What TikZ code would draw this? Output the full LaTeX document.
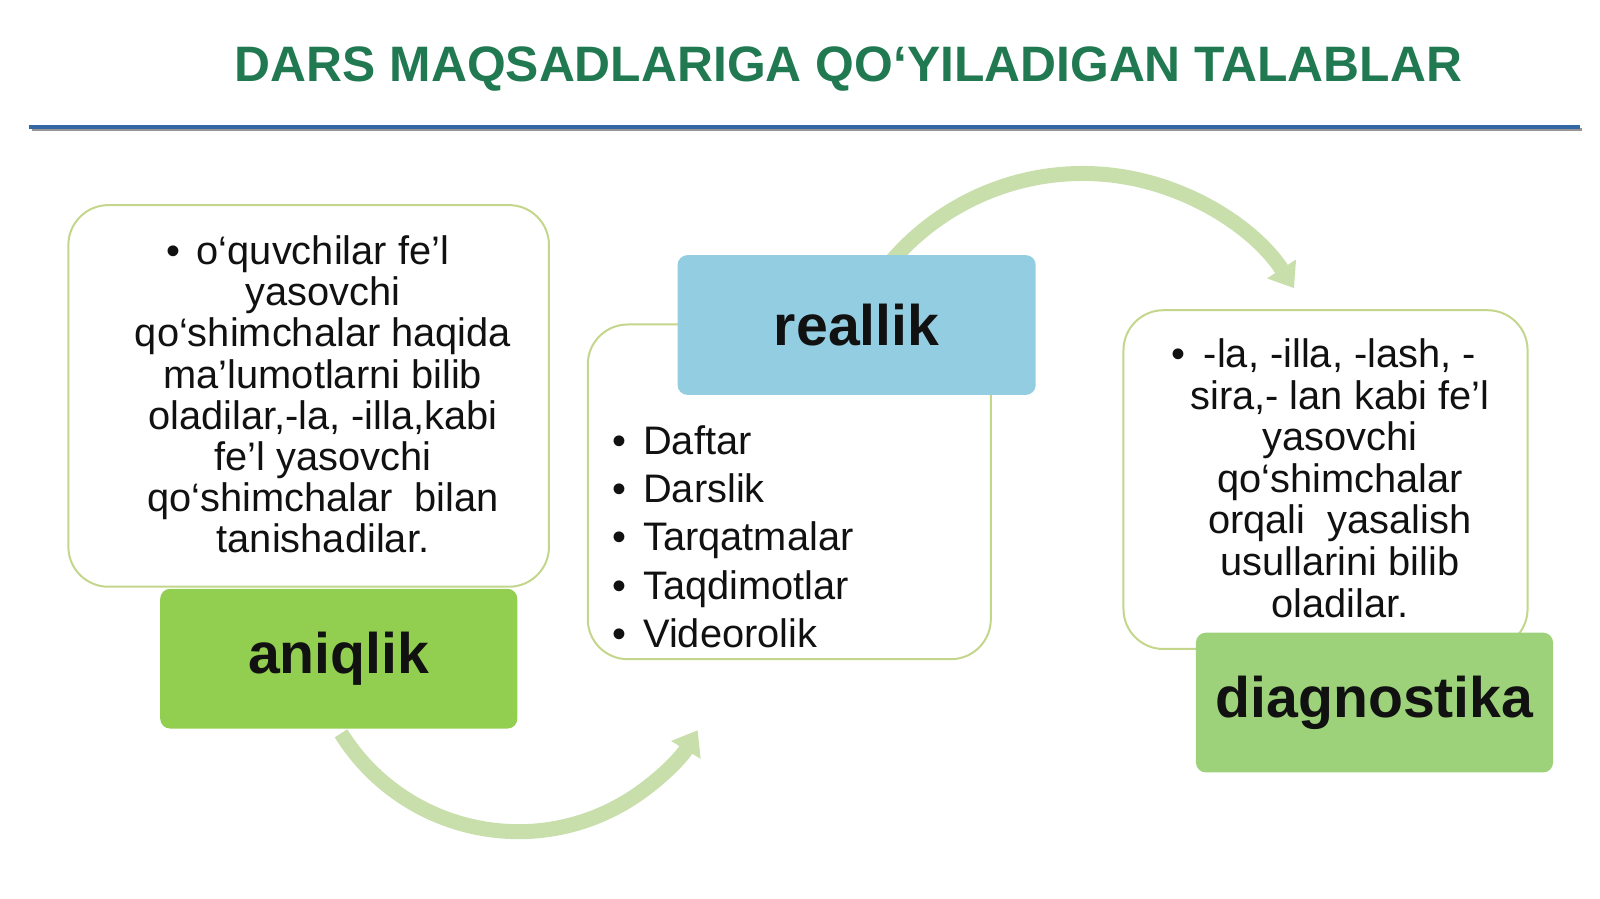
\documentclass[tikz,border=0pt]{standalone}
\usepackage{fontspec}
\setmainfont{Liberation Sans}
\usetikzlibrary{arrows.meta}
\definecolor{titlegreen}{RGB}{33,121,82}
\definecolor{rulerblue}{RGB}{52,104,164}
\definecolor{rulergrey}{RGB}{150,150,150}
\definecolor{boxline}{RGB}{196,214,140}
\definecolor{greenA}{RGB}{146,206,80}
\definecolor{blueB}{RGB}{146,205,225}
\definecolor{greenC}{RGB}{157,210,122}
\definecolor{arrowgreen}{RGB}{200,223,172}
\definecolor{textblack}{RGB}{17,17,17}
\tikzset{
  whitebox/.style={draw=boxline, line width=1pt, fill=white, rounded corners=20pt, inner sep=0pt},
  labelbox/.style={rounded corners=5pt, inner sep=0pt, font=\bfseries\fontsize{28.6}{34}\selectfont, text=textblack},
  bodytext/.style={inner sep=0pt, text=textblack},
  bigarrow/.style={draw=arrowgreen, line width=7.5pt, -{Triangle[length=11.5pt,width=16.5pt]}},
}
\begin{document}
\begin{tikzpicture}[x=0.5102pt,y=-0.5102pt]
\useasboundingbox (0,0) rectangle (1568,881);

% title and rule
\node[font=\bfseries\fontsize{24.9}{30}\selectfont, text=titlegreen, inner sep=0pt] (title) at (831.5,68) {DARS MAQSADLARIGA QO‘YILADIGAN TALABLAR};
\coordinate (ruleL) at (28,124);
\coordinate (ruleR) at (1548,124);
\draw[rulergrey, line width=1.6pt] ([shift={(3,3)}]ruleL) -- ([shift={(2,3)}]ruleR);
\draw[rulerblue, line width=2pt] (ruleL) -- (ruleR);

% white content boxes
\node[whitebox, minimum width=471*0.5102pt, minimum height=374*0.5102pt] (boxA) at (302.5,388) {};
\node[whitebox, minimum width=395*0.5102pt, minimum height=328*0.5102pt] (boxB) at (773.5,482) {};
\node[whitebox, minimum width=396*0.5102pt, minimum height=332*0.5102pt] (boxC) at (1299,470) {};

% curved arrows
\coordinate (cA) at (508,610);
\draw[bigarrow] (cA) ++(148:205) arc[start angle=148, end angle=31, radius=205];
\coordinate (cB) at (1061,417);
\draw[bigarrow] (cB) ++(221:247) arc[start angle=221, end angle=327, radius=247];

% label boxes
\node[labelbox, fill=greenA, minimum width=350*0.5102pt, minimum height=137*0.5102pt] (aniqlik) at (332,645.5) {aniqlik};
\node[labelbox, fill=blueB, minimum width=351*0.5102pt, minimum height=137*0.5102pt] (reallik) at (839.5,318.5) {reallik};
\node[labelbox, fill=greenC, minimum width=350*0.5102pt, minimum height=137*0.5102pt] (diagnostika) at (1347,688.5) {diagnostika};

% texts
\node[bodytext, align=center, font=\fontsize{19.9}{20.6}\selectfont] (textA) at (316.5,386.5) {\llap{•\hspace{8.2pt}}o‘quvchilar fe’l\\ yasovchi\\ qo‘shimchalar haqida\\ ma’lumotlarni bilib\\ oladilar,-la, -illa,kabi\\ fe’l yasovchi\\ qo‘shimchalar\ \ bilan\\ tanishadilar.};
\node[bodytext, align=left, anchor=west, font=\fontsize{19.9}{24.2}\selectfont] (textB) at (630,526) {\llap{•\hspace{8.2pt}}Daftar\\ \llap{•\hspace{8.2pt}}Darslik\\ \llap{•\hspace{8.2pt}}Tarqatmalar\\ \llap{•\hspace{8.2pt}}Taqdimotlar\\ \llap{•\hspace{8.2pt}}Videorolik};
\node[bodytext, align=center, font=\fontsize{19.9}{20.8}\selectfont] (textC) at (1313,468.5) {\llap{•\hspace{9pt}}-la, -illa, -lash, -\\ sira,- lan kabi fe’l\\ yasovchi\\ qo‘shimchalar\\ orqali\ \ yasalish\\ usullarini bilib\\ oladilar.};
\end{tikzpicture}
\end{document}
